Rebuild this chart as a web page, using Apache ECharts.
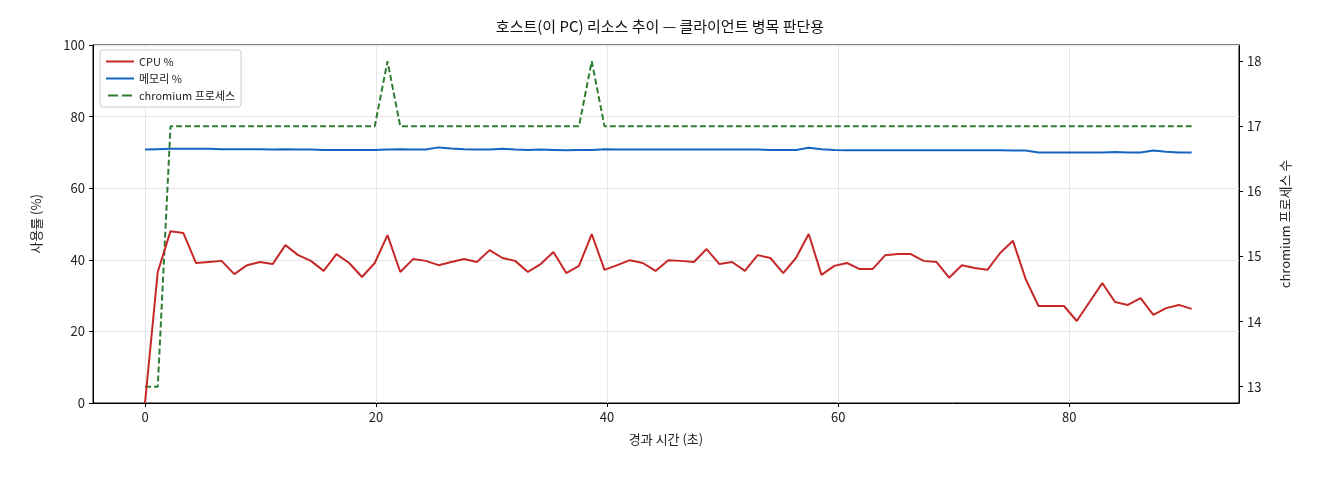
<!DOCTYPE html><html><head><meta charset="utf-8"><script src="https://cdn.jsdelivr.net/npm/echarts@6/dist/echarts.min.js"></script>
<style>body{margin:0}#c{width:1320px;height:480px}</style></head><body><div id="c"></div><script>
const dt = 90.6/82;
const cpu = [0,36.6,48.0,47.5,39.1,39.4,39.7,36.0,38.5,39.4,38.8,44.1,41.3,39.7,36.9,41.6,39.1,35.2,39.1,46.9,36.6,40.2,39.7,38.5,39.4,40.2,39.4,42.7,40.5,39.7,36.6,38.8,42.2,36.3,38.3,47.2,37.2,38.5,39.9,39.1,36.9,39.9,
 39.7,39.4,43.0,38.8,39.4,36.9,41.3,40.5,36.3,40.5,47.2,35.8,38.3,39.1,37.4,37.4,41.3,41.6,41.6,39.7,39.4,35.0,38.5,37.7,37.2,41.9,45.3,34.6,27.1,27.1,27.1,22.9,28.2,33.5,28.2,27.4,29.3,24.6,26.5,27.4,26.3];
const mem = [70.8,70.9,71.0,71.0,71.0,71.0,70.9,70.9,70.9,70.9,70.8,70.9,70.8,70.8,70.7,70.7,70.7,70.7,70.7,70.8,70.9,70.8,70.8,71.4,71.1,70.9,70.8,70.8,71.0,70.8,70.7,70.8,70.7,70.6,70.7,70.7,70.9,70.8,70.8,70.8,70.8,70.8,
 70.8,70.8,70.8,70.8,70.8,70.8,70.8,70.7,70.7,70.7,71.3,70.9,70.7,70.6,70.6,70.6,70.6,70.6,70.6,70.6,70.6,70.6,70.6,70.6,70.6,70.6,70.5,70.5,70.0,70.0,70.0,70.0,70.0,70.0,70.1,70.0,70.0,70.5,70.2,70.0,70.0];
const proc = [13,13,17,17,17,17,17,17,17,17,17,17,17,17,17,17,17,17,17,18,17,17,17,17,17,17,17,17,17,17,17,17,17,17,17,18,17,17,17,17,17,17,
 17,17,17,17,17,17,17,17,17,17,17,17,17,17,17,17,17,17,17,17,17,17,17,17,17,17,17,17,17,17,17,17,17,17,17,17,17,17,17,17,17];
const xTicks = [0,20,40,60,80];
const rTicks = [13,14,15,16,17,18];
const pair = a => a.map((v,i)=>[+(i*dt).toFixed(3),v]);
const F = '"Noto Sans CJK KR", "DejaVu Sans", sans-serif';
const ax = {axisLine:{onZero:false,lineStyle:{color:'#000'}},axisTick:{lineStyle:{color:'#000'},length:4},axisLabel:{color:'#222',fontSize:13,fontFamily:F},nameTextStyle:{color:'#222',fontSize:13,fontFamily:F}};
const c = echarts.init(document.getElementById('c'));
c.setOption({
 animation:false,
 title:{text:'호스트(이 PC) 리소스 추이 — 클라이언트 병목 판단용',left:'center',top:14,textStyle:{fontSize:15,fontWeight:'normal',color:'#111',fontFamily:F}},
 legend:{left:100,top:50,orient:'vertical',itemGap:6,itemWidth:28,itemHeight:2,backgroundColor:'#fff',borderColor:'#ccc',borderWidth:1,borderRadius:3,padding:[6,6],textStyle:{fontSize:11,fontFamily:F,color:'#222'},
  data:[{name:'CPU %',icon:'rect'},{name:'메모리 %',icon:'rect'},{name:'chromium 프로세스',icon:'path://M0,0H10V2H0Z M14,0H24V2H14Z'}]},
 grid:{left:93,right:81,top:45,bottom:77,show:true,borderColor:'#000',borderWidth:1,backgroundColor:'transparent'},
 xAxis:{type:'value',min:-4.5,max:94.7,interval:20,name:'경과 시간 (초)',nameLocation:'middle',nameGap:30,...ax,
  axisLabel:{...ax.axisLabel,customValues:xTicks},axisTick:{...ax.axisTick,customValues:xTicks},
  splitLine:{show:true,lineStyle:{color:'#e6e6e6'}}},
 yAxis:[{type:'value',min:0,max:100,interval:20,name:'사용률 (%)',nameLocation:'middle',nameGap:50,...ax,splitLine:{show:true,lineStyle:{color:'#e6e6e6'}}},
  {type:'value',min:12.75,max:18.25,name:'chromium 프로세스 수',nameLocation:'middle',nameGap:40,nameRotate:90,...ax,
   axisLabel:{...ax.axisLabel,customValues:rTicks},axisTick:{...ax.axisTick,customValues:rTicks},splitLine:{show:false}}],
 series:[
  {name:'CPU %',type:'line',data:pair(cpu),showSymbol:false,lineStyle:{color:'#c62828',width:2},itemStyle:{color:'#c62828'},z:3},
  {name:'메모리 %',type:'line',data:pair(mem),showSymbol:false,lineStyle:{color:'#1565c0',width:2},itemStyle:{color:'#1565c0'},z:3},
  {name:'chromium 프로세스',type:'line',yAxisIndex:1,data:pair(proc),showSymbol:false,lineStyle:{color:'#2e7d32',width:2,type:[6,3]},itemStyle:{color:'#2e7d32'},z:2}
 ]
});
</script></body></html>
